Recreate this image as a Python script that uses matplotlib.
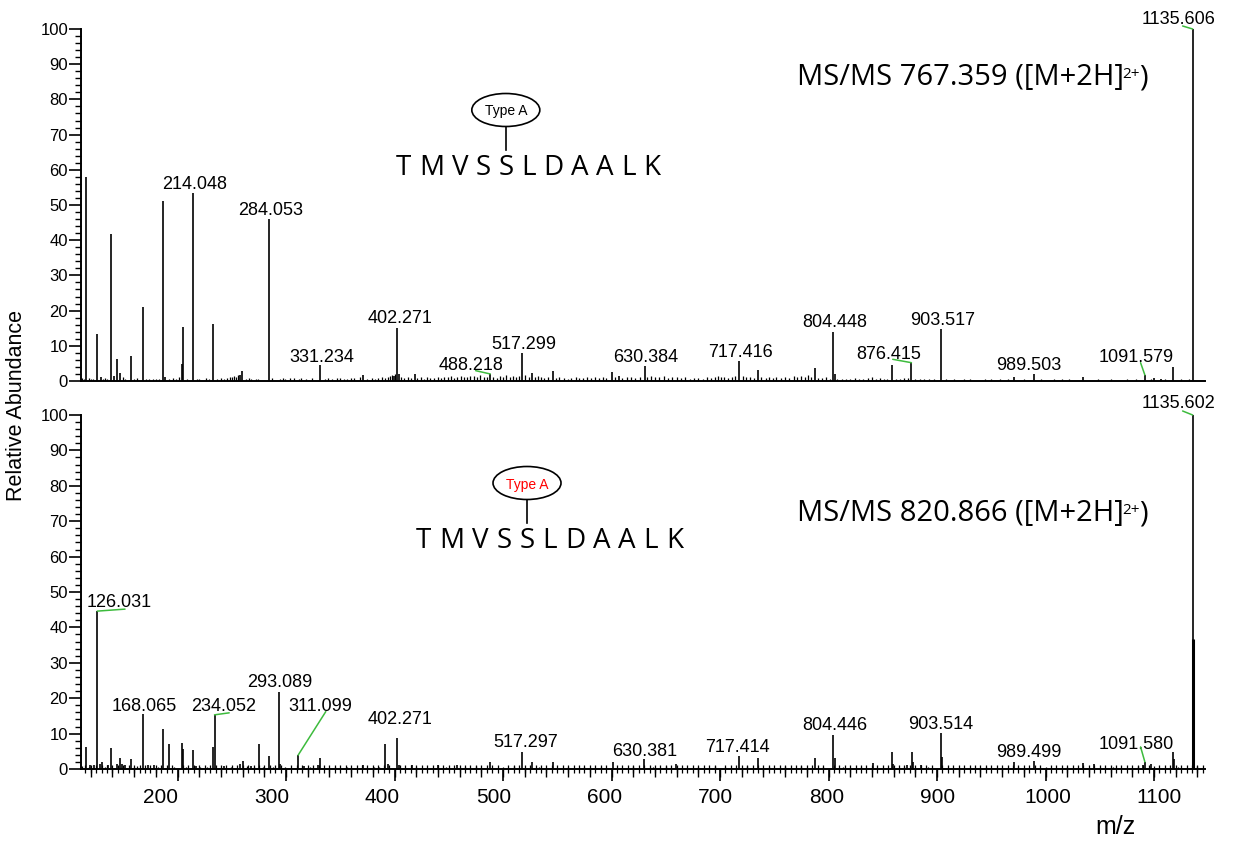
import matplotlib
matplotlib.use("Agg")
import matplotlib.pyplot as plt
from matplotlib.patches import Ellipse
from matplotlib.lines import Line2D
from matplotlib.ticker import MultipleLocator, FixedLocator

plt.rcParams["font.family"] = ["Liberation Sans", "DejaVu Sans"]

# ---------------- data ----------------
# Upper spectrum: MS/MS 767.359
top_label_text = ["214.048", "284.053", "331.234", "402.271", "488.218", "517.299",
                  "630.384", "717.416", "804.448", "876.415", "903.517", "989.503",
                  "1091.579", "1135.606"]
top_label_int = [53.5, 46.0, 4.5, 15.1, 2.0, 8.0, 4.2, 5.8, 14.0, 5.2, 14.8, 2.0, 1.7, 100.0]

top_mz = [115.9, 126.0, 129.0, 138.6, 141.0, 143.9, 146.9, 157.1, 167.8, 186.6, 188.0,
          203.8, 204.7, 232.9, 257.9, 259.6, 371.0, 399.3, 404.5, 418.8, 526.9, 545.7,
          600.6, 606.7, 734.7, 787.5, 805.7, 858.1, 971.2, 1034.8, 1100.0, 1106.0, 1117.1]
top_int = [58.0, 13.4, 1.2, 41.8, 1.5, 6.2, 2.2, 7.1, 21.1, 51.2, 1.0,
           4.8, 15.2, 16.2, 1.8, 2.9, 1.6, 1.5, 2.0, 2.0, 2.4, 2.9,
           2.5, 1.5, 3.1, 3.6, 2.0, 4.5, 1.2, 1.2, 0.8, 0.7, 3.9]

top_minor_mz = [112, 113.5, 118, 120, 122, 131, 133, 135, 150, 152, 160, 163, 171, 174, 177,
                180, 183, 192, 196, 199, 201, 209, 218, 220, 226, 229, 236, 240, 243, 246,
                248, 250, 252, 254, 256, 263, 266, 268, 272, 274, 287, 294, 297, 299, 304,
                307, 312, 314, 318, 324, 336, 339, 342, 347, 350, 353, 356, 360, 363, 368,
                375, 379, 382, 385, 388, 391, 394, 396, 398, 400, 406, 409, 412, 415, 421,
                424, 427, 430, 433, 436, 440, 443, 446, 449, 452, 455, 458, 461, 464, 467,
                470, 473, 476, 479, 482, 485, 491, 494, 497, 500, 503, 506, 509, 512, 515,
                520, 524, 529, 532, 535, 538, 541, 549, 552, 556, 560, 563, 567, 570, 574,
                577, 581, 585, 588, 592, 595, 603, 610, 614, 618, 622, 626, 633, 636, 640,
                644, 648, 652, 656, 660, 664, 668, 672, 676, 680, 684, 688, 692, 695, 698,
                701, 704, 707, 711, 714, 721, 724, 728, 731, 738, 742, 745, 749, 752, 756,
                760, 764, 768, 771, 775, 778, 781, 784, 790, 794, 798, 801, 808, 812, 816,
                820, 824, 828, 832, 836, 840, 844, 847, 851, 854, 862, 866, 870, 873, 880,
                884, 888, 893, 897, 908, 916, 925, 930, 944, 950, 958, 965, 980, 996, 1008,
                1015, 1022, 1048, 1060, 1075, 1083, 1097, 1110, 1125, 1132]
top_minor_int = [0.8, 0.6, 0.9, 0.7, 0.5, 0.6, 0.8, 0.5, 1.0, 0.7, 0.6, 0.8, 0.7, 0.6, 0.5,
                 0.6, 0.5, 0.5, 0.8, 0.6, 1.0, 0.5, 0.7, 0.6, 0.8, 0.7, 0.6, 0.9, 0.7, 0.8,
                 1.0, 1.2, 1.4, 1.0, 1.6, 0.6, 0.8, 0.7, 0.6, 0.7, 0.8, 0.6, 0.8, 0.7, 0.9,
                 0.8, 0.7, 0.9, 0.6, 0.8, 0.6, 0.8, 0.7, 0.8, 0.9, 0.6, 0.7, 0.8, 0.9, 1.0,
                 0.6, 0.9, 0.7, 0.8, 1.1, 0.9, 1.2, 1.5, 1.8, 2.0, 1.0, 0.9, 1.2, 0.8, 0.9,
                 1.0, 0.7, 1.1, 0.8, 0.9, 1.1, 0.9, 1.2, 1.0, 1.3, 0.9, 1.2, 1.4, 1.0, 1.2,
                 1.5, 1.3, 1.0, 1.6, 1.2, 1.0, 1.1, 0.8, 1.3, 1.0, 1.6, 1.1, 1.3, 1.0, 1.4,
                 1.6, 1.2, 1.0, 1.3, 1.1, 0.9, 1.2, 0.8, 1.0, 0.9, 0.7, 0.8, 1.0, 0.8, 0.9,
                 1.1, 0.9, 1.0, 0.8, 1.2, 0.9, 1.2, 0.9, 1.0, 1.1, 0.9, 1.2, 1.0, 1.3, 1.1,
                 1.0, 1.4, 0.9, 1.0, 1.2, 0.8, 1.0, 0.7, 0.9, 0.8, 0.7, 1.0, 0.9, 1.1, 1.3,
                 1.0, 1.2, 0.9, 1.1, 1.3, 1.4, 1.0, 1.2, 0.9, 1.1, 0.8, 1.0, 0.9, 1.1, 0.8,
                 1.2, 0.9, 1.3, 1.0, 1.4, 1.1, 1.6, 1.0, 0.9, 0.8, 1.1, 0.7, 0.6, 0.5, 0.7,
                 0.6, 0.8, 0.7, 0.6, 0.8, 1.0, 0.7, 0.8, 0.6, 0.7, 0.6, 0.5, 0.9, 0.8, 0.6,
                 0.7, 0.5, 0.6, 0.5, 0.5, 0.6, 0.5, 0.6, 0.5, 0.5, 0.6, 0.6, 0.5, 0.6, 0.5,
                 0.6, 0.5, 0.6, 0.5, 0.5, 0.6, 0.7, 0.5, 0.5, 0.6]

# Lower spectrum: MS/MS 820.866
bot_label_text = ["126.031", "168.065", "234.052", "293.089", "311.099", "402.271",
                  "517.297", "630.381", "717.414", "804.446", "903.514", "989.499",
                  "1091.580", "1135.602"]
bot_label_int = [44.6, 15.5, 15.3, 21.8, 3.9, 8.8, 4.9, 2.7, 3.7, 9.7, 10.1, 2.3, 2.0, 100.0]

bot_mz = [115.9, 119.0, 123.0, 128.2, 130.0, 136.0, 138.6, 143.9, 146.9, 149.0, 151.7,
          157.1, 172.7, 178.5, 186.3, 191.8, 204.0, 205.2, 214.2, 216.7, 232.9, 242.5,
          257.1, 260.0, 267.4, 274.8, 284.0, 294.5, 316.5, 329.4, 331.5, 371.0, 391.2,
          393.9, 404.5, 416.3, 440.3, 457.2, 488.2, 526.9, 545.7, 601.6, 659.1, 734.7,
          787.5, 805.7, 840.9, 858.1, 859.3, 872.5, 876.9, 878.1, 885.2, 905.0, 971.2,
          1034.8, 1044.9, 1090.1, 1097.1, 1117.1, 1118.3]
bot_int = [6.3, 1.0, 1.0, 1.3, 2.1, 1.2, 6.0, 1.4, 3.0, 1.5, 1.0,
           2.8, 1.2, 1.2, 11.2, 7.0, 7.4, 5.6, 5.4, 0.8, 6.2, 0.8,
           1.5, 2.4, 0.8, 7.1, 3.8, 1.5, 0.8, 1.0, 3.1, 1.0, 7.0,
           1.5, 1.2, 1.0, 1.0, 1.0, 2.0, 2.0, 2.1, 2.0, 1.3, 3.0,
           3.0, 3.0, 1.8, 4.9, 1.5, 1.2, 4.7, 2.0, 1.0, 3.3, 2.0,
           1.7, 1.3, 1.1, 1.3, 4.9, 2.8]

# shoulder of the precursor-region ion below the base peak
bot_shoulder_mz = [1136.1]
bot_shoulder_int = [36.7]

bot_minor_mz = [112, 118, 133, 160, 163, 182, 197, 208, 221, 227, 249, 264, 270, 279, 288,
                299, 322, 345, 356, 381, 386, 420, 447, 465, 475, 500, 510, 533, 560, 575,
                590, 620, 638, 650, 680, 695, 705, 725, 745, 760, 775, 795, 813, 830, 870,
                892, 945, 975, 1000, 1020, 1062, 1085, 1100, 1122, 1140]
bot_minor_int = [0.8, 0.6, 0.7, 0.6, 0.8, 0.6, 0.7, 0.6, 0.5, 0.7, 0.6, 0.8, 0.6, 0.7, 0.6,
                 0.5, 0.7, 0.6, 0.5, 0.7, 0.6, 0.6, 0.7, 0.6, 0.8, 0.6, 0.9, 0.7, 0.6, 0.7,
                 0.6, 0.8, 0.7, 0.8, 0.6, 0.8, 0.7, 0.8, 0.7, 0.8, 0.9, 0.6, 0.6, 0.5, 0.6,
                 0.5, 0.5, 0.6, 0.5, 0.6, 0.5, 0.8, 0.9, 0.6, 0.8]

x_ticks = [200, 300, 400, 500, 600, 700, 800, 900, 1000, 1100]
peptide = "TMVSSLDAALK"
site_label = "Type A"
precursors = ["767.359", "820.866"]

# ---------------- layout ----------------
W, H = 1233, 841
fig = plt.figure(figsize=(W / 100, H / 100), dpi=100)


def fx(px):
    return px / W


def fy(py):
    return 1 - py / H


X_LIM = (111, 1147)
LEADER = "#3dbb3d"
SANS2 = ["Open Sans", "DejaVu Sans"]

# label offsets (pixels from the peak top: text centre / baseline)
top_label_off = [(2, 3.5), (2, 4), (2, 3.5), (3, 4.5), (-19.5, 4), (2, 3.5),
                 (1.5, 4), (2, 3.5), (1.7, 5), (-23, 3.5), (1.7, 4), (-5, 4),
                 (-8.5, 13.3), (-13.7, 5.3)]
top_leader_end = {"488.218": (-14.6, 3.3), "876.415": (-18.7, 3.4),
                  "1091.579": (-4.3, 12.3), "1135.606": (-10, 3)}
bot_label_off = [(22.2, 3.7), (1.3, 3.3), (8.7, 3.7), (1, 4.4), (22, 44.6), (3, 13.7),
                 (3.5, 4.4), (-0.3, 3.3), (-1.7, 4.3), (1, 4.7), (-0.5, 4.3), (-5, 4),
                 (-8.7, 13.4), (-13.7, 7)]
bot_leader_end = {"126.031": (27.7, 2), "234.052": (14.7, 2), "311.099": (27.7, 43.6),
                  "1091.580": (-4.3, 15), "1135.602": (-10, 4)}

ax1 = fig.add_axes([fx(81), fy(381), fx(1205) - fx(81), fy(29) - fy(381)])
ax2 = fig.add_axes([fx(81), fy(769), fx(1205) - fx(81), fy(415) - fy(769)])


def style_axes(ax):
    ax.set_xlim(*X_LIM)
    ax.set_ylim(0, 100)
    for s in ("top", "right"):
        ax.spines[s].set_visible(False)
    for s in ("left", "bottom"):
        ax.spines[s].set_linewidth(1.4)
    ax.yaxis.set_major_locator(MultipleLocator(10))
    ax.yaxis.set_minor_locator(MultipleLocator(2))
    ax.tick_params(axis="y", which="major", direction="out", length=8.8, width=1.2,
                   pad=0.5, labelsize=12)
    ax.tick_params(axis="y", which="minor", direction="out", length=4.4, width=1.0)


def draw_spectrum(ax, mz, inten, minor_mz, minor_int, labels, label_int, offs, leaders):
    ax.vlines(minor_mz, 0, minor_int, color="black", lw=0.9)
    ax.vlines(mz, 0, inten, color="black", lw=1.2)
    lab_mz = [float(t) for t in labels]
    ax.vlines(lab_mz, 0, label_int, color="black", lw=1.2)
    for t, m, v, (dx, dy) in zip(labels, lab_mz, label_int, offs):
        ax.annotate(t, xy=(m, v), xytext=(dx, dy), textcoords="offset pixels",
                    ha="center", va="baseline", fontsize=13)
        if t in leaders:
            ax.annotate("", xy=(m, v), xytext=leaders[t], textcoords="offset pixels",
                        arrowprops=dict(arrowstyle="-", color=LEADER, lw=1.1,
                                        shrinkA=0, shrinkB=0))


style_axes(ax1)
style_axes(ax2)
ax1.tick_params(axis="x", which="both", bottom=False, labelbottom=False)

draw_spectrum(ax1, top_mz, top_int, top_minor_mz, top_minor_int,
              top_label_text, top_label_int, top_label_off, top_leader_end)
draw_spectrum(ax2, bot_mz, bot_int, bot_minor_mz, bot_minor_int,
              bot_label_text, bot_label_int, bot_label_off, bot_leader_end)
ax2.vlines(bot_shoulder_mz, 0, bot_shoulder_int, color="black", lw=2.2)

# lower m/z axis: long ticks every 100, medium every 20, short every 5
ax2.xaxis.set_major_locator(FixedLocator(x_ticks))
ax2.xaxis.set_minor_locator(MultipleLocator(5))
ax2.tick_params(axis="x", which="major", direction="out", length=8.4, width=1.2,
                labelbottom=False)
ax2.tick_params(axis="x", which="minor", direction="inout", length=5.2, width=0.9)
sec = ax2.secondary_xaxis("bottom")
sec.spines["bottom"].set_visible(False)
sec.xaxis.set_major_locator(MultipleLocator(20))
sec.tick_params(axis="x", which="major", direction="out", length=5.8, width=1.0,
                labelbottom=False)
sec.tick_params(axis="x", which="minor", bottom=False)

for v in x_ticks:
    shift = -17 + (v - 200) * 22 / 900
    ax2.annotate(str(v), xy=(v, 0), xycoords=("data", "axes fraction"),
                 xytext=(shift, -19), textcoords="offset pixels",
                 ha="center", va="top", fontsize=15)

# axis titles
fig.text(fx(17), fy(405), "Relative Abundance", rotation=90, ha="center", va="center",
         fontsize=15.5)
fig.text(fx(1115), fy(827), "m/z", ha="center", va="center", fontsize=18)

renderer = fig.canvas.get_renderer()


def heading(x_left, baseline, mz_text):
    """MS/MS heading with a raised charge state."""
    t1 = fig.text(fx(x_left), fy(baseline), "MS/MS " + mz_text + " ([M+2H]",
                  fontsize=21, family=SANS2, ha="left", va="baseline")
    x2 = t1.get_window_extent(renderer).x1 - 2
    t2 = fig.text(fx(x2), fy(baseline - 7), "2+", fontsize=11, family=SANS2,
                  ha="left", va="baseline")
    x3 = t2.get_window_extent(renderer).x1
    fig.text(fx(x3), fy(baseline), ")", fontsize=21, family=SANS2,
             ha="left", va="baseline")


heading(797, 85, precursors[0])
heading(797, 521, precursors[1])


def draw_peptide(x_left, x_right, baseline):
    letters = [fig.text(0, fy(baseline), c, fontsize=20, family=SANS2,
                        ha="left", va="baseline") for c in peptide]
    widths = [t.get_window_extent(renderer).width for t in letters]
    gap = (x_right - x_left - sum(widths)) / (len(letters) - 1)
    x = x_left
    centers = []
    for t, w in zip(letters, widths):
        t.set_x(fx(x))
        centers.append(x + w / 2)
        x += w + gap
    return centers


def draw_site(cx, cy, line_to, color):
    fig.add_artist(Ellipse((fx(cx), fy(cy)), 68 / W, 33 / H, transform=fig.transFigure,
                           fill=False, ec="black", lw=1.2))
    fig.add_artist(Line2D([fx(cx), fx(cx)], [fy(cy + 16.5), fy(line_to)],
                          transform=fig.transFigure, color="black", lw=1.2))
    fig.text(fx(cx), fy(cy), site_label, ha="center", va="center_baseline",
             fontsize=10, color=color)


c_top = draw_peptide(396, 660, 175)
draw_site(c_top[4], 110, 150, "black")
c_bot = draw_peptide(416, 683, 548)
draw_site(c_bot[4], 483, 523, "#ff0000")

fig.savefig("out.png", dpi=100)
